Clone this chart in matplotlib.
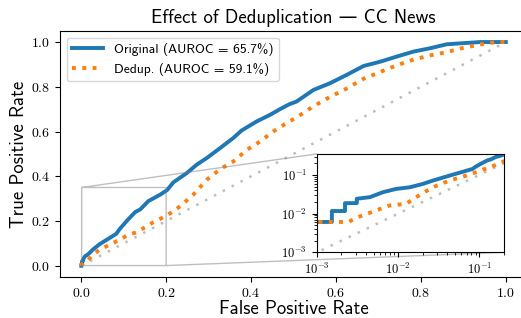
import matplotlib
matplotlib.use('Agg')
import matplotlib.pyplot as plt
from matplotlib.ticker import NullFormatter

# ROC points (FPR, TPR)
orig_fpr = [0.0, 0.0, 0.00153, 0.00153, 0.00222, 0.00222, 0.0031, 0.0031, 0.0045, 0.0065,
            0.0095, 0.0139, 0.0202, 0.0267, 0.0428, 0.0826, 0.09, 0.107, 0.127, 0.139,
            0.158, 0.186, 0.202, 0.217, 0.249, 0.272, 0.296, 0.327, 0.358, 0.378,
            0.413, 0.445, 0.468, 0.49, 0.507, 0.547, 0.586, 0.625, 0.665, 0.704,
            0.743, 0.782, 0.821, 0.861, 0.90, 0.94, 1.0]
orig_tpr = [0.0, 0.0061, 0.0061, 0.0117, 0.0117, 0.0187, 0.0187, 0.0243, 0.0267, 0.0358,
            0.0437, 0.048, 0.0587, 0.0714, 0.096, 0.143, 0.163, 0.20, 0.24, 0.252,
            0.289, 0.318, 0.338, 0.373, 0.415, 0.452, 0.482, 0.526, 0.571, 0.605,
            0.645, 0.675, 0.70, 0.722, 0.734, 0.786, 0.816, 0.853, 0.893, 0.912,
            0.935, 0.957, 0.972, 0.99, 0.995, 1.0, 1.0]

dedup_fpr = [0.0, 0.0, 0.00244, 0.00324, 0.0054, 0.0079, 0.0126, 0.0167, 0.0267, 0.0428,
             0.0686, 0.092, 0.11, 0.131, 0.17, 0.202, 0.233, 0.264, 0.296, 0.327,
             0.358, 0.39, 0.421, 0.452, 0.468, 0.49, 0.507, 0.547, 0.586, 0.625,
             0.665, 0.704, 0.743, 0.782, 0.821, 0.861, 0.90, 0.94, 0.978, 1.0]
dedup_tpr = [0.0, 0.0057, 0.0061, 0.0082, 0.0122, 0.0163, 0.018, 0.0267, 0.048, 0.0714,
             0.096, 0.118, 0.138, 0.15, 0.195, 0.225, 0.266, 0.318, 0.385, 0.432,
             0.466, 0.518, 0.555, 0.60, 0.619, 0.645, 0.663, 0.713, 0.755, 0.792,
             0.836, 0.866, 0.896, 0.921, 0.94, 0.955, 0.974, 0.989, 1.0, 1.0]

labels = ['Original (AUROC = 65.7%)', 'Dedup. (AUROC = 59.1%)']
title = 'Effect of Deduplication — CC News'

plt.rcParams['font.family'] = ['cmr10', 'DejaVu Serif']
plt.rcParams['mathtext.fontset'] = 'cm'
plt.rcParams['axes.formatter.use_mathtext'] = True
sans = ['cmss10', 'DejaVu Sans']

fig = plt.figure(figsize=(5.21, 3.18), dpi=100)
ax = fig.add_axes([0.1152, 0.129, 0.8964, 0.774])

diag_style = dict(color='#bdbdbd', linestyle=(0, (1, 3)), linewidth=1.8)

def draw(a):
    a.plot([0, 1], [0, 1], **diag_style)
    a.plot(orig_fpr, orig_tpr, color='tab:blue', linewidth=2.8, label=labels[0])
    a.plot(dedup_fpr, dedup_tpr, color='tab:orange', linestyle=':', linewidth=2.8, label=labels[1])

draw(ax)
ax.set_xlim(-0.05, 1.05)
ax.set_ylim(-0.05, 1.05)
ax.set_xlabel('False Positive Rate', family=sans, fontsize=13.5)
ax.set_ylabel('True Positive Rate', family=sans, fontsize=13.5)
ax.xaxis.set_label_coords(0.5, -0.093)
ax.yaxis.set_label_coords(-0.068, 0.5)
ax.set_title(title, family=sans, fontsize=13.5)
ax.tick_params(labelsize=10)
ax.legend(loc='upper left', prop={'family': sans, 'size': 9.7}, handlelength=2.3)

axins = ax.inset_axes([0.55, 0.10, 0.40, 0.40])
draw(axins)
axins.set_xscale('log')
axins.set_yscale('log')
axins.set_xlim(1e-3, 0.2)
axins.set_ylim(1e-3, 0.35)
axins.xaxis.set_minor_formatter(NullFormatter())
axins.yaxis.set_minor_formatter(NullFormatter())
axins.tick_params(labelsize=9)
ax.indicate_inset_zoom(axins)

fig.savefig('out.png', dpi=100)
